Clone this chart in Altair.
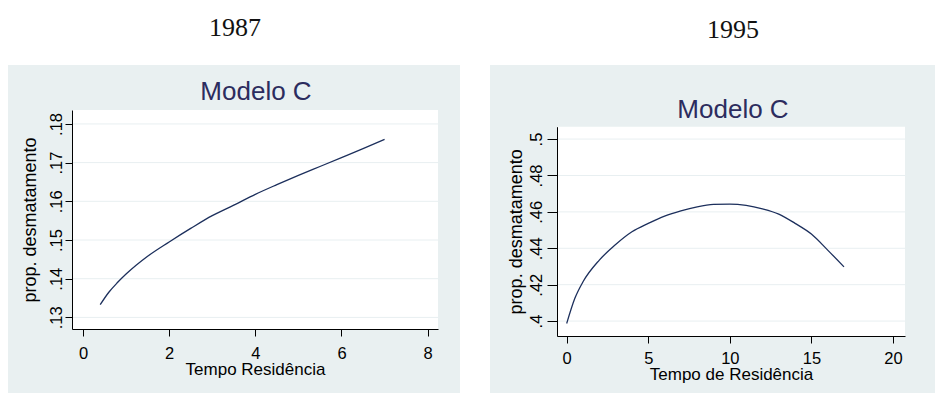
import altair as alt
import pandas as pd

# ---- data ----
year_left = "1987"
year_right = "1995"
panel_title = "Modelo C"

x87 = [0.4, 0.6, 0.8, 1.0, 1.5, 2.0, 2.5, 3.0, 3.5, 4.0, 4.5, 5.0, 5.5, 6.0, 6.5, 7.0]
y87 = [0.1333, 0.1365, 0.1390, 0.1412, 0.1458, 0.1495, 0.1530, 0.1563, 0.1590,
       0.1618, 0.1643, 0.1667, 0.1690, 0.1713, 0.1736, 0.1760]

x95 = [0, 0.5, 1, 2, 3, 4, 5, 6, 7, 8, 9, 10, 11, 12, 13, 14, 15, 16, 17]
y95 = [0.3987, 0.4125, 0.4216, 0.4335, 0.4421, 0.4491, 0.4537, 0.4577, 0.4606,
       0.4628, 0.4641, 0.4643, 0.4636, 0.4617, 0.4588, 0.4537, 0.4478, 0.4390, 0.4298]

xticks87 = [0, 2, 4, 6, 8]
yticks87 = [0.13, 0.14, 0.15, 0.16, 0.17, 0.18]
xticks95 = [0, 5, 10, 15, 20]
yticks95 = [0.40, 0.42, 0.44, 0.46, 0.48, 0.50]

xlabel87 = "Tempo Residência"
xlabel95 = "Tempo de Residência"
ylabel = "prop. desmatamento"

# ---- styles ----
SANS = "Liberation Sans Narrow, Arial Narrow, Liberation Sans, Arial"
SERIF = "Liberation Serif, Times New Roman, serif"
BG = "#e9f0f1"
GRID = "#e8eff1"
LINE = "#1c2f5c"
TITLE_C = "#2c2c5e"

Y0 = 110  # common page y of both view origins

one = pd.DataFrame({"t": [""]})


def panel(xs, ys, xticks, yticks, xdom, ydom, ox, plot_top, plot_bottom, w, xlabel, year,
          full_x, bg_x, year_pos, title_pos, ytick, ylabpad, ytitlepad, xlabpad):
    def rx(px):
        return px - ox

    def ry(py):
        return py - Y0

    h = ry(plot_bottom)
    df = pd.DataFrame({"x": xs, "y": ys})
    gdf = pd.DataFrame({"y": yticks})
    lab = "replace(format(datum.value, '.2~f'), '0.', '.')"
    xaxis = alt.Axis(values=xticks, title=xlabel, grid=False, domainColor="black",
                     tickColor="black", tickSize=7, labelPadding=xlabpad,
                     labelFont=SANS, labelFontSize=16.5, labelColor="black",
                     titleFont=SANS, titleFontSize=17, titleFontWeight="normal",
                     titleColor="black", titlePadding=0, zindex=1)
    yaxis = alt.Axis(values=yticks, title=ylabel, grid=False,
                     domainColor="black", tickColor="black", tickSize=ytick,
                     labelAngle=-90, labelAlign="center", labelBaseline="bottom",
                     labelPadding=ylabpad, labelExpr=lab,
                     labelFont=SANS, labelFontSize=16.5, labelColor="black",
                     titleFont=SANS, titleFontSize=18, titleFontWeight="normal",
                     titleColor="black", titlePadding=ytitlepad, zindex=1)
    xscale = alt.Scale(domain=xdom, nice=False, zero=False)
    yscale = alt.Scale(domain=ydom, nice=False, zero=False, range=[h, ry(plot_top)])

    full = alt.Chart(one).mark_rect(color="white").encode(
        x=alt.value(rx(full_x[0])), x2=alt.value(rx(full_x[1])),
        y=alt.value(ry(8)), y2=alt.value(ry(393)))
    bg = alt.Chart(one).mark_rect(color=BG).encode(
        x=alt.value(rx(bg_x[0])), x2=alt.value(rx(bg_x[1])),
        y=alt.value(ry(65)), y2=alt.value(ry(393)))
    plotbg = alt.Chart(one).mark_rect(color="white").encode(
        x=alt.value(0), x2=alt.value(w), y=alt.value(ry(plot_top)), y2=alt.value(h))
    grid = alt.Chart(gdf).mark_rule(color=GRID, strokeWidth=1).encode(
        y=alt.Y("y:Q", scale=yscale, axis=yaxis), x=alt.value(0), x2=alt.value(w))
    yr = alt.Chart(pd.DataFrame({"t": [year]})).mark_text(
        font=SERIF, fontSize=26, color="#111111", align="center", baseline="alphabetic"
    ).encode(x=alt.value(rx(year_pos[0])), y=alt.value(ry(year_pos[1])), text="t:N")
    tt = alt.Chart(pd.DataFrame({"t": [panel_title]})).mark_text(
        font=SANS, fontSize=26, color=TITLE_C, align="center", baseline="alphabetic"
    ).encode(x=alt.value(rx(title_pos[0])), y=alt.value(ry(title_pos[1])), text="t:N")
    line = alt.Chart(df).mark_line(color=LINE, strokeWidth=1.3, interpolate="monotone").encode(
        x=alt.X("x:Q", scale=xscale, axis=xaxis),
        y=alt.Y("y:Q", scale=yscale, axis=yaxis),
    )
    return alt.layer(full, bg, plotbg, grid, yr, tt, line).properties(width=w, height=h)


left = panel(x87, y87, xticks87, yticks87, [-0.255, 8.24], [0.127, 0.1836],
             ox=72, plot_top=110, plot_bottom=329, w=366, xlabel=xlabel87, year=year_left,
             full_x=(8, 465), bg_x=(8, 460), year_pos=(235, 36), title_pos=(256, 100),
             ytick=7, ylabpad=1, ytitlepad=9, xlabpad=9)

right = panel(x95, y95, xticks95, yticks95, [-0.595, 20.74], [0.3918, 0.5068],
              ox=557, plot_top=126.7, plot_bottom=336, w=348, xlabel=xlabel95, year=year_right,
              full_x=(465, 935), bg_x=(490, 935), year_pos=(733, 38), title_pos=(733, 118),
              ytick=10, ylabpad=3, ytitlepad=3, xlabpad=7)

chart = alt.hconcat(left, right, spacing=0).properties(padding=0).configure_view(stroke=None)

chart.save("out.html", embed_options={"renderer": "svg", "actions": False})
